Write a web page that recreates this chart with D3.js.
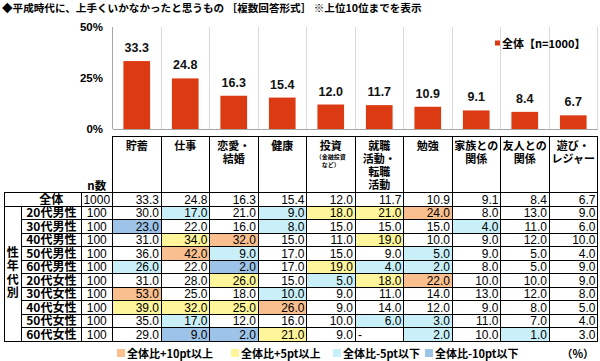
<!DOCTYPE html>
<html><head><meta charset="utf-8">
<script src="https://cdn.jsdelivr.net/npm/d3@7"></script>
<style>
html,body{margin:0;padding:0;background:#fff;}
svg{display:block;}
</style></head>
<body>
<script>
// ---------- data ----------
const title = "◆平成時代に、上手くいかなかったと思うもの ［複数回答形式］ ※上位10位までを表示";
const categories = ["貯蓄","仕事","恋愛・結婚","健康","投資","就職活動・転職活動","勉強","家族との関係","友人との関係","遊び・レジャー"];
const categoryLines = [["貯蓄"],["仕事"],["恋愛・","結婚"],["健康"],["投資"],["就職","活動・","転職","活動"],["勉強"],["家族との","関係"],["友人との","関係"],["遊び・","レジャー"]];
const investNote = ["（金融投資","など）"];
const overall = [33.3,24.8,16.3,15.4,12.0,11.7,10.9,9.1,8.4,6.7];
const overallLabel = "全体";
const overallN = 1000;
const seriesName = "全体【n=1000】";
const yTicks = [0,25,50];
const groups = ["20代男性","30代男性","40代男性","50代男性","60代男性","20代女性","30代女性","40代女性","50代女性","60代女性"];
const groupN = [100,100,100,100,100,100,100,100,100,100];
const groupValues = [
  [30.0,17.0,21.0, 9.0,18.0,21.0,24.0, 8.0,13.0, 9.0],
  [23.0,22.0,16.0, 8.0,15.0,15.0,15.0, 4.0,11.0, 6.0],
  [31.0,34.0,32.0,15.0,11.0,19.0,10.0, 9.0,12.0,10.0],
  [36.0,42.0, 9.0,17.0,15.0, 9.0, 5.0, 9.0, 5.0, 4.0],
  [26.0,22.0, 2.0,17.0,19.0, 4.0, 2.0, 8.0, 5.0, 9.0],
  [31.0,28.0,26.0,15.0, 5.0,18.0,22.0,10.0,10.0, 9.0],
  [53.0,25.0,18.0,10.0, 9.0,11.0,14.0,13.0,12.0, 8.0],
  [39.0,32.0,25.0,26.0, 9.0,14.0,12.0, 9.0, 8.0, 5.0],
  [35.0,17.0,12.0,16.0,10.0, 6.0, 3.0,11.0, 7.0, 4.0],
  [29.0, 9.0, 2.0,21.0, 9.0,null, 2.0,10.0, 1.0, 3.0]
];
const sideLabel = "性年代別";
const nHeader = "n数";
const legendLabels = ["全体比+10pt以上","全体比+5pt以上","全体比-5pt以下","全体比-10pt以下"];
const unitLabel = "（%）";

// ---------- styles ----------
const barColor = "#DB3A12";
const hiColors = ["#FABF8F","#FFF59B","#C9F0F8","#9DC3E8"];
const CJK = "'Noto Sans CJK JP','Noto Sans',sans-serif";
const LAT = "'Liberation Sans',Arial,sans-serif";

const W=600, H=361;
const svg = d3.select("body").append("svg").attr("width",W).attr("height",H);

svg.append("text").attr("x",2).attr("y",12).attr("font-family",CJK).attr("font-weight","bold")
  .attr("font-size",10.6).attr("fill","#000").text(title);

const x = d3.scaleBand().domain(categories).range([112.5,597.5]).padding(0);
const bw = x.bandwidth();
const y = d3.scaleLinear().domain([0,50]).range([129,27]);

// gridlines (vertical separators)
const bounds = categories.map(c=>x(c)).concat([x.range()[1]]);
svg.append("g").selectAll("line").data(bounds).join("line")
  .attr("x1",d=>d).attr("x2",d=>d).attr("y1",y(50)).attr("y2",y(0))
  .attr("stroke",(d,i)=>i===0?"#a6a6a6":"#d9d9d9").attr("stroke-width",1)
  .attr("shape-rendering","crispEdges");
svg.append("line").attr("x1",x.range()[0]).attr("x2",x.range()[1]).attr("y1",y(0)).attr("y2",y(0))
  .attr("stroke","#a6a6a6").attr("shape-rendering","crispEdges");

// y axis
const yAxis = svg.append("g").attr("transform",`translate(${x.range()[0]},0)`)
  .call(d3.axisLeft(y).tickValues(yTicks).tickFormat(d=>d+"%").tickSize(0).tickPadding(9.5));
yAxis.select(".domain").remove();
yAxis.selectAll("text").attr("font-family",LAT).attr("font-size",11.5).attr("font-weight","bold").attr("fill","#000");

// bars
const barW = bw*0.55;
svg.append("g").selectAll("rect").data(overall).join("rect")
  .attr("x",(d,i)=>x(categories[i])+(bw-barW)/2).attr("width",barW)
  .attr("y",d=>y(d)).attr("height",d=>y(0)-y(d)).attr("fill",barColor);
svg.append("g").selectAll("text").data(overall).join("text")
  .attr("x",(d,i)=>x(categories[i])+bw/2).attr("y",d=>y(d)-9)
  .attr("text-anchor","middle").attr("font-family",LAT).attr("font-size",12.5).attr("font-weight","bold")
  .attr("fill","#111").text(d=>d.toFixed(1));

// top legend
svg.append("rect").attr("x",495).attr("y",40.5).attr("width",5).attr("height",5).attr("fill",barColor);
svg.append("text").attr("x",502).attr("y",47.5).attr("font-family",CJK).attr("font-weight","bold")
  .attr("font-size",11).attr("fill","#000").text(seriesName);

// ---------- table ----------
const tTop = 136, hBottom = 192.5, rowH = 13.5;
const xL = 4, xSide = 21.7, xN = 81, xD = x.range()[0], xR = x.range()[1];
const rowTop = i => hBottom + rowH*(i+1); // group rows
const tBottom = rowTop(groups.length);
const base = t => t + rowH - 2.5;

function hiIndex(v, b){
  if(v===null) return -1;
  const d = v - b;
  if(d >= 10-1e-9) return 0;
  if(d >= 5-1e-9) return 1;
  if(d <= -10+1e-9) return 3;
  if(d <= -5+1e-9) return 2;
  return -1;
}
const cells = [];
groupValues.forEach((row,r)=>row.forEach((v,c)=>cells.push({r,c,v,h:hiIndex(v,overall[c])})));
svg.append("g").selectAll("rect").data(cells.filter(d=>d.h>=0)).join("rect")
  .attr("x",d=>x(categories[d.c])).attr("y",d=>rowTop(d.r)).attr("width",bw).attr("height",rowH)
  .attr("fill",d=>hiColors[d.h]);

// header labels: one text element per column, lines as tspans
const hg = svg.append("g").attr("font-family",CJK).attr("font-weight","bold").attr("font-size",11).attr("fill","#000");
categoryLines.forEach((lines,i)=>{
  const t = hg.append("text").attr("text-anchor","middle");
  lines.forEach((s,k)=>t.append("tspan").attr("x",x(categories[i])+bw/2).attr("y",149.5+k*13.3).text(s));
  if(i===4){
    investNote.forEach((s,k)=>t.append("tspan").attr("x",x(categories[i])+bw/2).attr("y",158.5+k*8)
      .attr("font-size",6).text(s));
  }
});
hg.append("text").attr("x",(xN+xD)/2).attr("y",189.5).attr("text-anchor","middle").attr("font-size",11.5).text(nHeader);

// row labels as one text element
const lg = svg.append("g").attr("font-family",CJK).attr("font-weight","bold").attr("font-size",12).attr("fill","#000");
const lt = lg.append("text").attr("text-anchor","middle");
lt.append("tspan").attr("x",(xSide+xN)/2).attr("y",base(hBottom)).text(overallLabel);
groups.forEach((g,r)=>lt.append("tspan").attr("x",(xSide+xN)/2).attr("y",base(rowTop(r))).text(g));
lg.append("text").attr("x",(xL+xSide)/2).attr("y",(hBottom+rowH+tBottom)/2 - 0.5)
  .attr("text-anchor","middle").attr("writing-mode","vertical-rl").attr("letter-spacing",1.5).text(sideLabel);

// numbers: one text element per column
const ng = svg.append("g").attr("font-family",LAT).attr("font-size",12).attr("fill","#000");
const nt = ng.append("text").attr("text-anchor","middle");
nt.append("tspan").attr("x",(xN+xD)/2).attr("y",base(hBottom)).text(overallN);
groupN.forEach((n,r)=>nt.append("tspan").attr("x",(xN+xD)/2).attr("y",base(rowTop(r))).text(n));
categories.forEach((cat,c)=>{
  const t = ng.append("text").attr("text-anchor","end");
  t.append("tspan").attr("x",x(cat)+bw-2).attr("y",base(hBottom)).text(overall[c].toFixed(1));
  cells.filter(d=>d.c===c).forEach(d=>{
    if(d.v===null){
      t.append("tspan").attr("x",x(cat)+3).attr("y",base(rowTop(d.r))).attr("text-anchor","start").text("-");
    } else {
      t.append("tspan").attr("x",x(cat)+bw-2).attr("y",base(rowTop(d.r))).text(d.v.toFixed(1));
    }
  });
});

// table lines
const tl = svg.append("g").attr("stroke","#000").attr("stroke-width",1).attr("shape-rendering","crispEdges");
tl.append("line").attr("x1",xD).attr("x2",xR).attr("y1",tTop).attr("y2",tTop);
tl.append("line").attr("x1",xL).attr("x2",xR).attr("y1",hBottom).attr("y2",hBottom);
tl.append("line").attr("x1",xL).attr("x2",xR).attr("y1",hBottom+rowH).attr("y2",hBottom+rowH);
groups.forEach((g,r)=>{
  const yy = rowTop(r)+rowH;
  tl.append("line").attr("x1",r===groups.length-1?xL:xSide).attr("x2",xR).attr("y1",yy).attr("y2",yy);
});
bounds.forEach(b=>tl.append("line").attr("x1",b).attr("x2",b).attr("y1",tTop).attr("y2",tBottom));
tl.append("line").attr("x1",xL).attr("x2",xL).attr("y1",hBottom).attr("y2",tBottom);
tl.append("line").attr("x1",xN).attr("x2",xN).attr("y1",hBottom).attr("y2",tBottom);
tl.append("line").attr("x1",xSide).attr("x2",xSide).attr("y1",hBottom+rowH).attr("y2",tBottom);

// bottom legend
const legX = [117,231,333,425];
const bl = svg.append("g");
legendLabels.forEach((t,i)=>{
  bl.append("rect").attr("x",legX[i]).attr("y",349).attr("width",8).attr("height",8).attr("fill",hiColors[i]);
  bl.append("text").attr("x",legX[i]+10).attr("y",357.5).attr("font-family",CJK).attr("font-weight","bold")
    .attr("font-size",11).attr("fill","#000").text(t);
});
bl.append("text").attr("x",594).attr("y",357.5).attr("text-anchor","end").attr("font-family",CJK)
  .attr("font-weight","bold").attr("font-size",11).attr("fill","#000").text(unitLabel);
</script>
</body></html>
